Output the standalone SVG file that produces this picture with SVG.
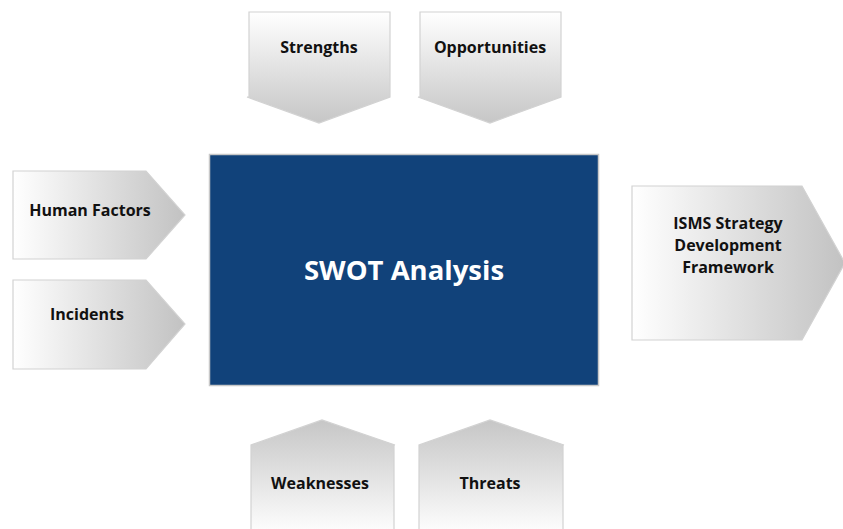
<svg xmlns="http://www.w3.org/2000/svg" width="843" height="529" viewBox="0 0 843 529">
<style>
.arrow{stroke:#d2d2d2;stroke-width:1.2}
.lbl{font-family:"Open Sans","Noto Sans","Liberation Sans",sans-serif;font-weight:bold;font-size:16px;fill:#111;text-anchor:middle}
.title{font-family:"Open Sans","Noto Sans","Liberation Sans",sans-serif;font-weight:bold;font-size:27.5px;fill:#fff;text-anchor:middle}
</style>
<defs>
<linearGradient id="gDown" x1="0" y1="0" x2="0" y2="1"><stop offset="0" stop-color="#ffffff"/><stop offset="1" stop-color="#c6c6c6"/></linearGradient>
<linearGradient id="gUp" x1="0" y1="0" x2="0" y2="1"><stop offset="0" stop-color="#c6c6c6"/><stop offset="1" stop-color="#ffffff"/></linearGradient>
<linearGradient id="gRight" x1="0" y1="0" x2="1" y2="0"><stop offset="0" stop-color="#ffffff"/><stop offset="1" stop-color="#c2c2c2"/></linearGradient>
</defs>
<g id="swot">
<rect x="209.5" y="154.5" width="389" height="231" fill="#11427a" stroke="#c8c8c8" stroke-width="1.5"/>
<text class="title" x="404" y="280">SWOT Analysis</text>
</g>
<g id="strengths">
<path class="arrow" d="M249,12 H390 V97 L319,123 L247,97 H249 Z" fill="url(#gDown)"/>
<text class="lbl" x="319" y="53">Strengths</text>
</g>
<g id="opportunities">
<path class="arrow" d="M420,12 H561 V97 L490,123 L418,97 H420 Z" fill="url(#gDown)"/>
<text class="lbl" x="490" y="53">Opportunities</text>
</g>
<g id="human-factors">
<path class="arrow" d="M13,171 H146 L185,215 L146,259 H13 Z" fill="url(#gRight)"/>
<text class="lbl" x="90" y="216">Human Factors</text>
</g>
<g id="incidents">
<path class="arrow" d="M13,280 H146 L185,324 L146,369 H13 Z" fill="url(#gRight)"/>
<text class="lbl" x="87" y="320">Incidents</text>
</g>
<g id="isms">
<path class="arrow" d="M632,186 H802 L845,263 L802,340 H632 Z" fill="url(#gRight)"/>
<text class="lbl" x="728" y="229">ISMS Strategy</text>
<text class="lbl" x="728" y="251">Development</text>
<text class="lbl" x="728" y="273">Framework</text>
</g>
<g id="weaknesses">
<path class="arrow" d="M251,535 V445 L322,420 L395,445 H394 V535" fill="url(#gUp)"/>
<text class="lbl" x="320" y="489">Weaknesses</text>
</g>
<g id="threats">
<path class="arrow" d="M419,535 V445 L490,420 L564,445 H563 V535" fill="url(#gUp)"/>
<text class="lbl" x="490" y="489">Threats</text>
</g>
<g id="connectors"></g>
</svg>
